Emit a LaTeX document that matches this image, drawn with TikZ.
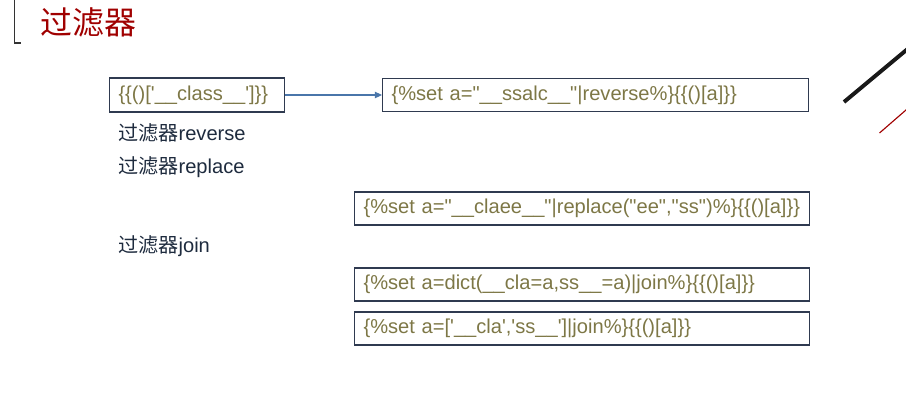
\documentclass[tikz,border=0pt]{standalone}
\usepackage{fontspec}
\setmainfont{Liberation Sans}
\newfontfamily\cjk{Noto Sans CJK SC}
\usetikzlibrary{arrows.meta}
\definecolor{titlered}{RGB}{160,0,0}
\definecolor{codeolive}{RGB}{125,119,70}
\definecolor{boxline}{RGB}{47,58,80}
\definecolor{labelnavy}{RGB}{30,43,62}
\definecolor{arrowblue}{RGB}{74,118,170}
\newcommand{\sq}{\textquotesingle}
\newcommand{\dq}{\textquotedbl}

\begin{document}
\begin{tikzpicture}[x=0.025cm, y=-0.025cm, font=\fontsize{14.3pt}{17pt}\selectfont]
    \tikzstyle{code box}=[draw=boxline, line width=0.75pt, text=codeolive, anchor=west, inner xsep=0.225cm, inner ysep=0pt, minimum height=0.825cm, align=left]
    \tikzstyle{filter label}=[text=labelnavy, anchor=west, inner sep=0pt]

    \useasboundingbox (0,0) rectangle (906,414);

    % page corner and title
    \draw[black!80, line width=1.2pt] (14.5,-2) -- (14.5,43) -- (21,43);
    \node[anchor=west, inner sep=0pt, text=titlered, font=\fontsize{22.7pt}{26pt}\selectfont\cjk] (title) at (40,22) {过滤器};

    % code boxes
    \node[code box, text width=3.925cm, minimum height=0.85cm] (cls) at (109,95) {\{\{()[\sq\_\_class\_\_\sq]\}\}};
    \node[code box, text width=10.2cm] (rev) at (382,95) {\{\%set a=\dq\_\_ssalc\_\_\dq|reverse\%\}\{\{()[a]\}\}};
    \node[code box, text width=10.925cm] (rpl) at (354,208.5) {\{\%set a=\dq\_\_claee\_\_\dq|replace(\dq ee\dq,\dq ss\dq)\%\}\{\{()[a]\}\}};
    \node[code box, text width=10.925cm] (dct) at (354,284.5) {\{\%set a=dict(\_\_cla=a,ss\_\_=a)|join\%\}\{\{()[a]\}\}};
    \node[code box, text width=10.925cm] (lst) at (354,328.5) {\{\%set a=[\sq\_\_cla\sq,\sq ss\_\_\sq]|join\%\}\{\{()[a]\}\}};

    \draw[arrowblue, line width=0.8pt, -{Triangle[length=5pt,width=4.5pt]}] (cls) -- (rev);

    % labels
    \node[filter label] (lrev) at (118,133) {{\cjk 过滤器}reverse};
    \node[filter label] (lrpl) at (118,167) {{\cjk 过滤器}replace};
    \node[filter label] (ljn) at (118,246) {{\cjk 过滤器}join};

    % slide decoration
    \draw[black!90, line width=2.8pt] (844,102) -- (910,47);
    \draw[titlered, line width=0.8pt] (879.5,133) -- (910,106.5);
\end{tikzpicture}
\end{document}
